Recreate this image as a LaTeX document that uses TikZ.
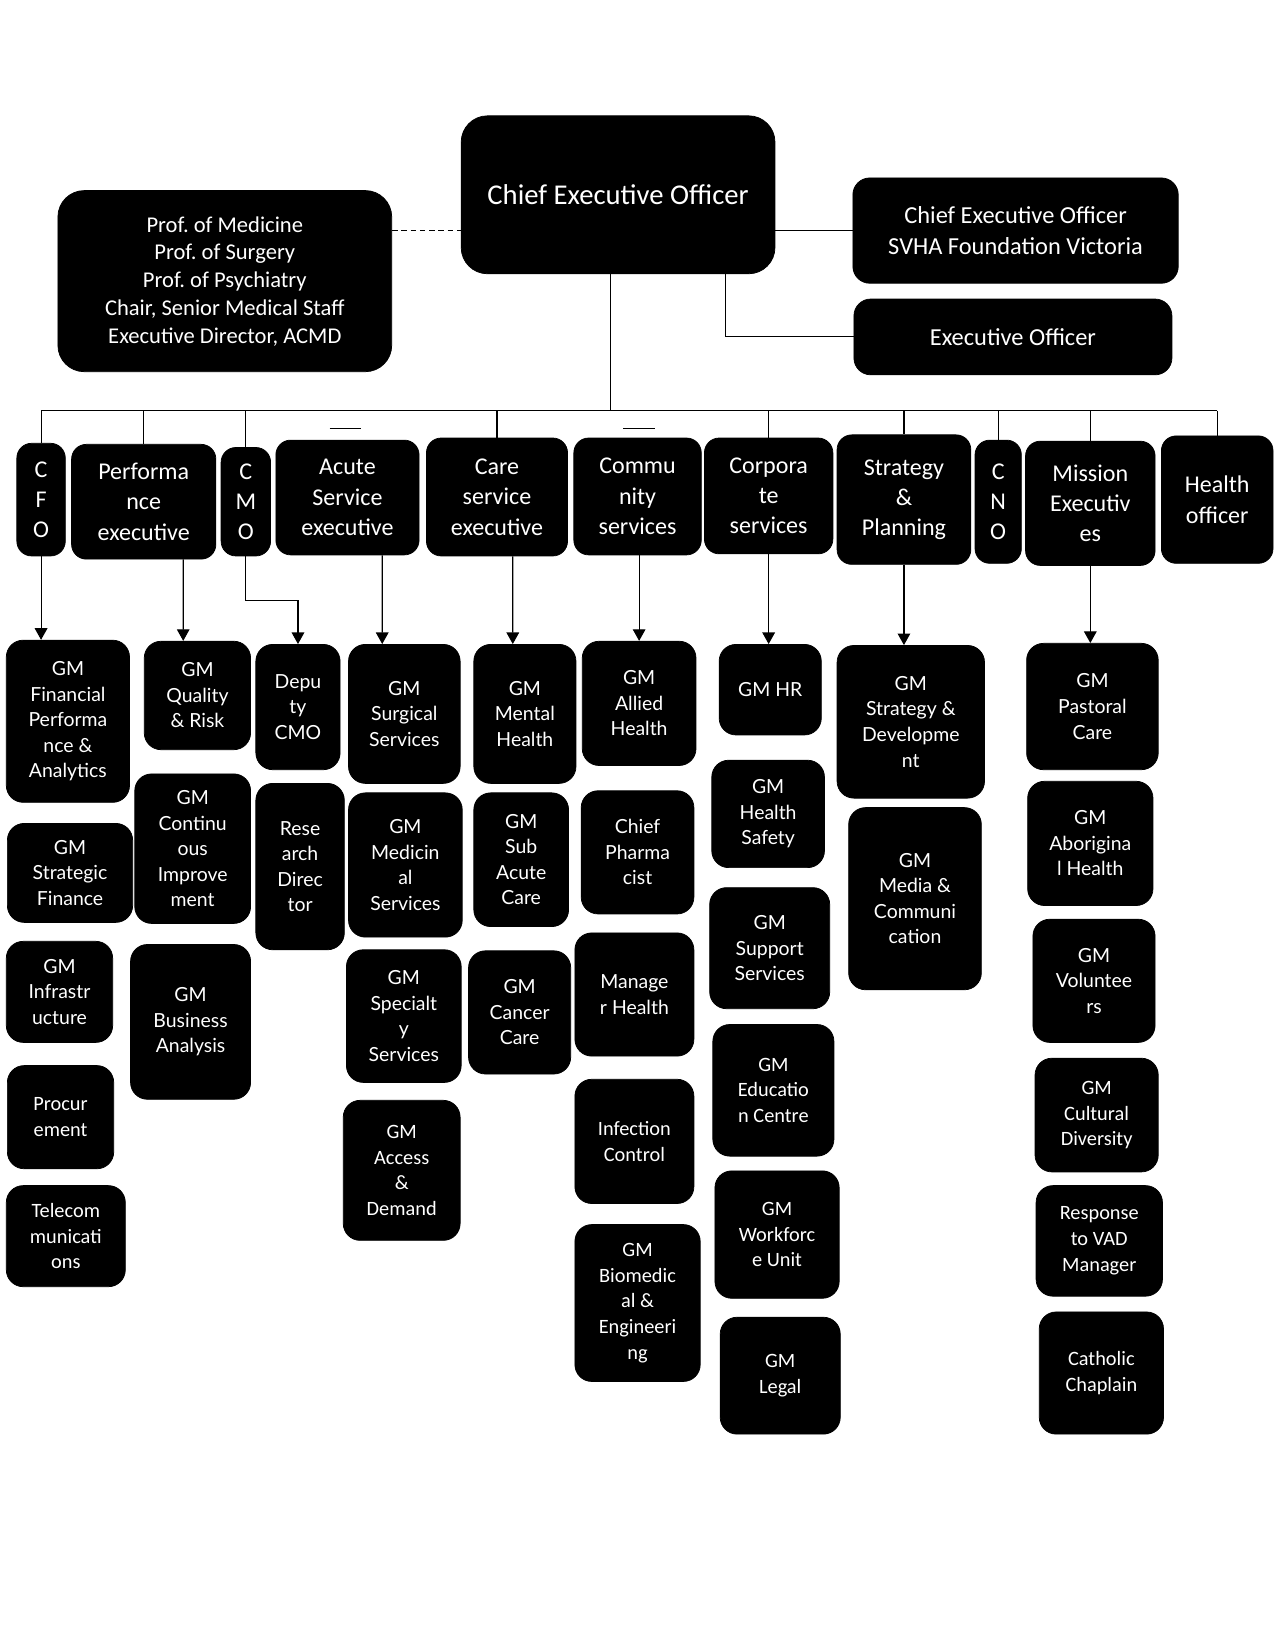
\documentclass[tikz,border=0pt]{standalone}
\usepackage{fontspec}
\setmainfont{Carlito}
\newfontfamily\latofont{Lato}
\usepackage{tikz}
\usetikzlibrary{arrows.meta,positioning}
\frenchspacing

\begin{document}
\begin{tikzpicture}[
  x=0.02cm,y=-0.02cm,
  box/.style={draw=black,fill=black,text=white,rounded corners=0.32cm,inner sep=0pt,align=center},
  area/.style args={#1/#2/#3/#4}{at={({(#1+#3)/2},{(#2+#4)/2})},
    minimum width={(#3-#1)*0.02cm},minimum height={(#4-#2)*0.02cm}},
  headbox/.style={box,rounded corners=0.28cm,font=\fontsize{13}{16.4}\selectfont},
  gmbox/.style={box,font=\latofont\fontsize{10.5}{13.8}\selectfont},
  gmcbox/.style={box,font=\fontsize{11}{13.9}\selectfont},
  link/.style={line width=0.6pt},
  arr/.style={link,-{Triangle[length=2.2mm,width=2.4mm]}}
]
\useasboundingbox[fill=white] (0,0) rectangle (1211,1568);

% executive level
\node[box,rounded corners=0.5cm,font=\fontsize{15.5}{19}\selectfont,area=438/110/736/260] (ceo) {Chief Executive Officer};
\node[box,rounded corners=0.5cm,font=\fontsize{12.2}{15}\selectfont,area=55/181/372/353] (prof) {Prof. of Medicine\\Prof. of Surgery\\Prof. of Psychiatry\\Chair, Senior Medical Staff\\Executive Director, ACMD};
\node[box,font=\fontsize{13.2}{16.4}\selectfont,area=810/169/1119/269] (fdn) {Chief Executive Officer\\SVHA Foundation Victoria};
\node[box,font=\fontsize{13.2}{16.4}\selectfont,area=811/284/1113/356] (eo) {Executive Officer};

% directors
\node[headbox,area=16/421/62/528] (cfo) {C\\F\\O};
\node[headbox,area=68/422/205/531] (perf) {Performa\\nce\\executive};
\node[headbox,area=210/425/257/528] (cmo) {C\\M\\O};
\node[headbox,area=262/418/398/527] (acute) {Acute\\Service\\executive};
\node[headbox,area=405/416/539/528] (care) {Care\\service\\executive};
\node[headbox,area=545/416/666/527] (comm) {Commu\\nity\\services};
\node[headbox,area=669/416/791/526] (corp) {Corpora\\te\\services};
\node[headbox,area=795/413/922/536] (strat) {Strategy\\\&\\Planning};
\node[headbox,area=926/418/970/535] (cno) {C\\N\\O};
\node[headbox,area=974/419/1097/537] (miss) {Mission\\Executiv\\es};
\node[headbox,area=1103/414/1209/535] (hlth) {Health\\officer};

% finance
\node[gmbox,area=6/608/123/762] (gmfin) {GM\\Financial\\Performa\\nce \&\\Analytics};
\node[gmbox,area=7/782/126/876] (gmsfin) {GM\\Strategic\\Finance};
\node[gmbox,area=6/894/107/990] (gminf) {GM\\Infrastr\\ucture};
\node[gmcbox,area=7/1012/108/1110] (proc) {Procur\\ement};
\node[gmcbox,area=6/1126/119/1222] (tele) {Telecom\\municati\\ons};

% performance
\node[gmbox,area=137/609/238/712] (gmqual) {GM\\Quality\\\& Risk};
\node[gmbox,area=128/735/238/877] (gmci) {GM\\Continu\\ous\\Improve\\ment};
\node[gmbox,area=124/897/238/1044] (gmba) {GM\\Business\\Analysis};

% medical
\node[gmbox,area=243/612/323/731] (dep) {Depu\\ty\\CMO};
\node[gmbox,area=243/744/327/902] (res) {Rese\\arch\\Direc\\tor};

% acute
\node[gmbox,area=331/612/437/744] (surg) {GM\\Surgical\\Services};
\node[gmbox,area=331/753/439/890] (med) {GM\\Medicin\\al\\Services};
\node[gmbox,area=329/902/438/1028] (spec) {GM\\Specialt\\y\\Services};
\node[gmcbox,area=326/1045/437/1178] (access) {GM\\Access\\\&\\Demand};

% care
\node[gmbox,area=450/612/547/744] (mental) {GM\\Mental\\Health};
\node[gmbox,area=450/753/540/880] (subac) {GM\\Sub\\Acute\\Care};
\node[gmbox,area=445/903/542/1020] (cancer) {GM\\Cancer\\Care};

% community
\node[gmbox,area=553/609/661/727] (allied) {GM\\Allied\\Health};
\node[gmbox,area=552/751/659/868] (pharm) {Chief\\Pharma\\cist};
\node[gmbox,area=546/886/659/1003] (mgrh) {Manage\\r Health};
\node[gmcbox,area=546/1025/659/1143] (infect) {Infection\\Control};
\node[gmcbox,area=546/1163/665/1312] (biomed) {GM\\Biomedic\\al \&\\Engineeri\\ng};

% corporate
\node[gmbox,area=683/612/780/698] (hr) {GM HR};
\node[gmbox,area=676/722/783/824] (hsafe) {GM\\Health\\Safety};
\node[gmbox,area=674/843/788/958] (supp) {GM\\Support\\Services};
\node[gmcbox,area=677/973/792/1098] (edu) {GM\\Educatio\\n Centre};
\node[gmcbox,area=679/1112/797/1233] (wfu) {GM\\Workforc\\e Unit};
\node[gmcbox,area=684/1251/798/1362] (legal) {GM\\Legal};

% strategy
\node[gmbox,area=795/613/935/758] (stdev) {GM\\Strategy \&\\Developme\\nt};
\node[gmbox,area=806/767/932/940] (media) {GM\\Media \&\\Communi\\cation};

% mission
\node[gmbox,area=975/611/1100/731] (past) {GM\\Pastoral\\Care};
\node[gmbox,area=976/742/1095/860] (abor) {GM\\Aborigina\\l Health};
\node[gmbox,area=981/873/1097/990] (vol) {GM\\Voluntee\\rs};
\node[gmcbox,area=983/1005/1100/1113] (cult) {GM\\Cultural\\Diversity};
\node[gmcbox,area=984/1126/1104/1231] (vad) {Response\\to VAD\\Manager};
\node[gmcbox,area=987/1246/1105/1362] (chap) {Catholic\\Chaplain};

% links from the CEO
\draw[link,dash pattern=on 3pt off 2pt] (prof.east |- fdn.west) -- (ceo.west |- fdn.west);
\draw[link] (ceo.east |- fdn.west) -- (fdn.west);
\draw[link] ([xshift=-0.94cm]ceo.south east) |- (eo.west);

\coordinate (bus) at (0,390);
\coordinate (ceodrop) at ([xshift=-0.14cm]ceo.south);
\draw[link] (ceodrop) -- (ceodrop |- bus);
\draw[link] (cfo.north |- bus) -- (hlth.north |- bus);
\foreach \n in {cfo,perf,cmo,care,corp,strat,cno,miss,hlth}
  \draw[link] (\n.north |- bus) -- (\n.north);
\draw[link] (313,407) -- (343,407);
\draw[link] (592,407) -- (622,407);

% arrows to the first GM of each column
\foreach \a/\b in {cfo/gmfin,corp/hr,strat/stdev,miss/past}
  \draw[arr] (\a.south) -- (\a.south |- \b.north);
\draw[arr] (allied.north |- comm.south) -- (allied.north);
\draw[arr] ([xshift=0.75cm]perf.south) -- ([xshift=-0.27cm]gmqual.north);
\draw[arr] ([xshift=0.66cm]acute.south) -- ([xshift=-0.42cm]surg.north);
\draw[arr] ([xshift=0.3cm]care.south) -- ([xshift=-0.23cm]mental.north);
\draw[arr] (cmo.south) -- ++(0,42) -| (dep.north);
\end{tikzpicture}
\end{document}
